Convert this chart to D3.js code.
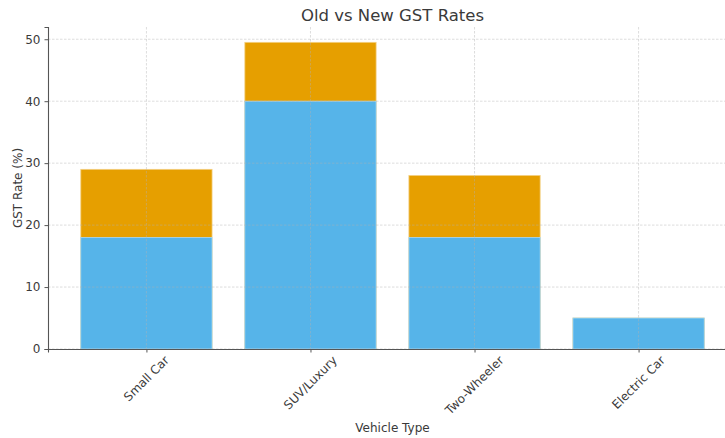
<!DOCTYPE html>
<html lang="en">
<head>
    <meta charset="UTF-8">
    <title>Old vs New GST Rates</title>
    <script src="https://d3js.org/d3.v7.min.js"></script>
    <style>
        body { margin: 0; background: #fff; }
        svg { font-family: "DejaVu Sans", sans-serif; }
    </style>
</head>
<body>
    <div id="chart"></div>
    <script>
        // Chart data
        const vehicleTypes = ['Small Car', 'SUV/Luxury', 'Two-Wheeler', 'Electric Car'];
        const oldRates = [29, 49.5, 28, 5];
        const newRates = [18, 40, 18, 5];
        const yTicks = [0, 10, 20, 30, 40, 50];

        const width = 725;
        const height = 438;
        const margin = { top: 27, right: -12, bottom: 89, left: 48 };
        const innerW = width - margin.left - margin.right;
        const innerH = height - margin.top - margin.bottom;

        const svg = d3.select('#chart')
            .append('svg')
            .attr('width', width)
            .attr('height', height);

        const g = svg.append('g')
            .attr('transform', `translate(${margin.left},${margin.top})`);

        // x like matplotlib: categories at 0..3, limits -0.6..3.6
        const x = d3.scaleLinear()
            .domain([-0.6, vehicleTypes.length - 1 + 0.6])
            .range([0, innerW]);
        const barW = x(0.4) - x(0);

        const yMax = d3.max(oldRates) * 1.05;
        const y = d3.scaleLinear()
            .domain([0, yMax])
            .range([innerH, 0]);

        // Old rates (orange) behind, new rates (blue) in front
        g.selectAll('.old')
            .data(oldRates)
            .enter()
            .append('rect')
            .attr('x', (d, i) => x(i) - barW)
            .attr('y', d => y(d))
            .attr('width', barW * 2)
            .attr('height', d => innerH - y(d))
            .attr('fill', '#E69F00')
            .attr('stroke', '#f3cf80')
            .attr('stroke-width', 0.8);

        g.selectAll('.new')
            .data(newRates)
            .enter()
            .append('rect')
            .attr('x', (d, i) => x(i) - barW)
            .attr('y', d => y(d))
            .attr('width', barW * 2)
            .attr('height', d => innerH - y(d))
            .attr('fill', '#56B4E9')
            .attr('stroke', '#aad9f4')
            .attr('stroke-width', 0.8);

        // Grid lines (drawn over the bars, light and dashed)
        g.append('g')
            .selectAll('line')
            .data(yTicks)
            .enter()
            .append('line')
            .attr('x1', 0)
            .attr('x2', innerW)
            .attr('y1', d => y(d))
            .attr('y2', d => y(d))
            .attr('stroke', '#b0b0b0')
            .attr('stroke-opacity', 0.55)
            .attr('stroke-dasharray', '2.5,1.5')
            .attr('stroke-width', 0.8);

        g.append('g')
            .selectAll('line')
            .data(vehicleTypes)
            .enter()
            .append('line')
            .attr('x1', (d, i) => x(i))
            .attr('x2', (d, i) => x(i))
            .attr('y1', 0)
            .attr('y2', innerH)
            .attr('stroke', '#b0b0b0')
            .attr('stroke-opacity', 0.55)
            .attr('stroke-dasharray', '2.5,1.5')
            .attr('stroke-width', 0.8);

        // Y axis
        const yAxis = g.append('g')
            .call(d3.axisLeft(y).tickValues(yTicks).tickSize(3.5).tickPadding(4));
        yAxis.select('.domain').attr('stroke', '#555').attr('stroke-width', 1.1);
        yAxis.selectAll('.tick line').attr('stroke', '#555');
        yAxis.selectAll('text')
            .attr('fill', '#3a3a3a')
            .style('font-size', '12px')
            .style('font-family', '"DejaVu Sans", sans-serif');

        // X axis
        const xAxis = g.append('g')
            .attr('transform', `translate(0,${innerH})`)
            .call(d3.axisBottom(x).tickValues(d3.range(vehicleTypes.length)).tickSize(3.5).tickFormat(''));
        xAxis.select('.domain').attr('stroke', '#555').attr('stroke-width', 1.1);
        xAxis.selectAll('.tick line').attr('stroke', '#555');

        // Rotated tick labels, bounding box centred on the tick
        const labelTop = innerH + 5;
        vehicleTypes.forEach((name, i) => {
            const t = g.append('text')
                .attr('text-anchor', 'middle')
                .attr('dominant-baseline', 'central')
                .attr('fill', '#3a3a3a')
                .style('font-size', '12px')
                .text(name);
            const w = t.node().getComputedTextLength();
            const h = 12;
            const boxH = (w + h) * Math.SQRT1_2;
            t.attr('transform', `translate(${x(i)},${labelTop + boxH / 2}) rotate(-45)`);
        });

        // Axis labels
        g.append('text')
            .attr('x', innerW / 2)
            .attr('y', innerH + 83)
            .attr('text-anchor', 'middle')
            .attr('fill', '#3a3a3a')
            .style('font-size', '12px')
            .text('Vehicle Type');

        g.append('text')
            .attr('transform', 'rotate(-90)')
            .attr('x', -innerH / 2)
            .attr('y', -26)
            .attr('text-anchor', 'middle')
            .attr('fill', '#3a3a3a')
            .style('font-size', '12px')
            .text('GST Rate (%)');

        // Title
        g.append('text')
            .attr('x', innerW / 2)
            .attr('y', -6)
            .attr('text-anchor', 'middle')
            .attr('fill', '#3a3a3a')
            .style('font-size', '16.5px')
            .text('Old vs New GST Rates');
    </script>
</body>
</html>
